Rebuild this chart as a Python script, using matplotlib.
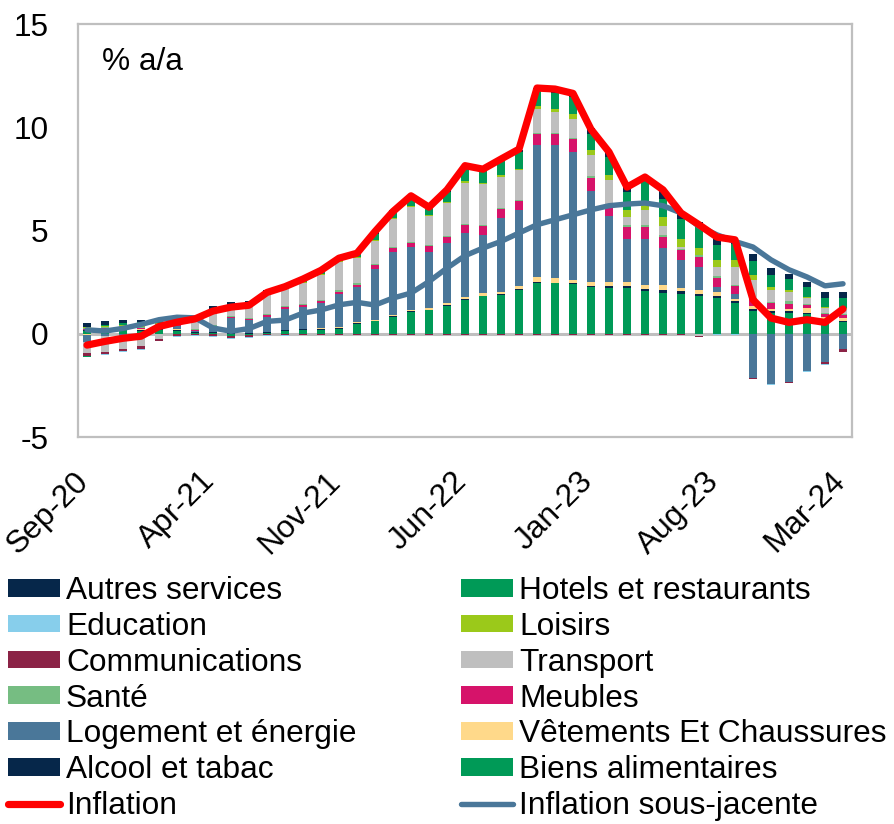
import numpy as np
import pandas as pd
import matplotlib
matplotlib.use("Agg")
import matplotlib.pyplot as plt
from matplotlib.patches import Patch
from matplotlib.lines import Line2D
import matplotlib.transforms as mtransforms

plt.rcParams['font.family'] = ['Liberation Sans', 'DejaVu Sans']
plt.rcParams['axes.unicode_minus'] = False

# ---- data -------------------------------------------------------------
months = pd.date_range('2020-09-01', '2024-03-01', freq='MS').strftime('%b-%y').tolist()
tick_labels = ['Sep-20', 'Apr-21', 'Nov-21', 'Jun-22', 'Jan-23', 'Aug-23', 'Mar-24']

biens_alimentaires = [0.15, 0.15, 0.20, 0.15, 0.20, 0.15, 0.05, 0.05, -0.10, -0.08, 0.05, 0.15, 0.20, 0.20, 0.25,
                      0.48, 0.61, 0.81, 1.05, 1.13, 1.35, 1.65, 1.81, 1.90, 2.13, 2.47, 2.45, 2.39, 2.25, 2.23,
                      2.21, 2.08, 1.97, 1.92, 1.84, 1.73, 1.49, 1.11, 1.00, 1.00, 0.97, 0.60, 0.55]
alcool_tabac = [0.05, 0.05, 0.05, 0.05, 0.05, 0.05, 0.03, 0.03, 0.03, 0.03, 0.03, 0.03, 0.03, 0.03, 0.03,
                0.03, 0.03, 0.03, 0.03, 0.03, 0.03, 0.03, 0.03, 0.03, 0.03, 0.05, 0.03, 0.05, 0.05, 0.08,
                0.10, 0.08, 0.16, 0.13, 0.10, 0.08, 0.08, 0.08, 0.08, 0.08, 0.05, 0.05, 0.05]
vetements = [-0.05, 0.02, 0.03, 0.05, 0.02, 0.02, 0.02, 0.02, 0.02, 0.02, 0.02, 0.02, 0.02, 0.05, 0.04,
             0.05, 0.05, 0.08, 0.08, 0.08, 0.10, 0.10, 0.11, 0.11, 0.16, 0.21, 0.24, 0.18, 0.21, 0.19,
             0.21, 0.21, 0.21, 0.16, 0.19, 0.19, 0.11, 0.13, 0.13, 0.13, 0.23, 0.16, 0.16]
logement = [-0.35, -0.10, -0.10, -0.05, 0.10, 0.15, 0.05, 0.20, 0.70, 0.60, 0.70, 1.00, 1.05, 1.20, 1.62,
            1.70, 2.44, 3.02, 3.03, 2.70, 2.90, 3.10, 2.85, 3.55, 3.65, 6.40, 6.40, 6.20, 4.40, 3.20,
            2.05, 2.20, 1.82, 1.35, 1.10, 0.26, 0.26, -2.15, -2.42, -2.36, -1.78, -1.35, -0.75]
meubles = [0.05, 0.06, 0.05, 0.05, 0.05, 0.05, 0.05, 0.05, 0.05, 0.07, 0.10, 0.10, 0.10, 0.10, 0.10,
           0.10, 0.19, 0.21, 0.21, 0.32, 0.32, 0.37, 0.40, 0.45, 0.48, 0.52, 0.56, 0.60, 0.65, 0.55,
           0.58, 0.58, 0.52, 0.48, 0.47, 0.42, 0.39, 0.35, 0.27, 0.24, 0.13, 0.13, 0.16]
sante = [0.03, 0.03, 0.03, 0.05, 0.05, 0.05, 0.05, 0.05, 0.05, 0.05, 0.05, 0.05, 0.05, 0.05, 0.08,
         0.08, 0.05, 0.05, 0.05, 0.05, 0.05, 0.05, 0.05, 0.05, 0.05, 0.06, 0.05, 0.05, 0.10, 0.05,
         0.11, 0.11, 0.08, 0.05, 0.10, 0.13, 0.05, 0.05, 0.08, 0.16, 0.05, 0.05, 0.05]
transport = [-0.55, -0.78, -0.65, -0.55, -0.25, 0.05, 0.45, 0.60, 0.40, 0.55, 0.95, 0.80, 1.00, 1.20, 1.36,
             1.21, 1.13, 1.37, 1.70, 1.39, 1.57, 2.02, 2.02, 1.50, 1.42, 1.18, 1.02, 0.94, 1.02, 1.15,
             0.40, 0.73, 0.48, 0.10, -0.13, 0.42, 0.85, 0.90, 0.56, 0.39, 0.29, 0.24, 0.24]
communications = [-0.15, -0.10, -0.10, -0.13, -0.10, -0.10, -0.08, -0.12, -0.10, -0.10, -0.05, -0.05, -0.05, -0.05, -0.05,
                  -0.05, -0.05, -0.04, -0.04, -0.04, -0.04, -0.04, -0.04, -0.04, -0.04, -0.05, -0.04, -0.04, -0.04, -0.04,
                  -0.04, -0.04, -0.04, -0.04, -0.03, -0.03, -0.03, -0.03, -0.03, -0.03, -0.04, -0.13, -0.11]
loisirs = [0.05, 0.08, 0.07, 0.10, 0.05, 0.10, 0.05, 0.07, 0.05, 0.07, 0.07, 0.05, 0.05, 0.05, 0.05,
           0.05, 0.06, 0.05, 0.05, 0.05, 0.06, 0.06, 0.05, 0.08, 0.08, 0.13, 0.13, 0.21, 0.21, 0.24,
           0.32, 0.32, 0.40, 0.42, 0.37, 0.32, 0.32, 0.23, 0.16, 0.10, 0.08, 0.08, 0.05]
education = [0.01, -0.03, -0.03, -0.04, -0.02, -0.04, -0.05, -0.05, -0.05, -0.05, -0.05, -0.05, -0.03, -0.02, -0.02,
             -0.02, -0.02, -0.02, -0.02, -0.02, -0.02, -0.02, -0.02, -0.02, -0.02, -0.02, -0.02, -0.02, -0.02, -0.02,
             -0.02, -0.02, -0.02, -0.02, -0.02, -0.02, -0.02, -0.01, -0.01, -0.01, -0.01, -0.01, -0.01]
hotels = [-0.05, 0.05, 0.10, 0.10, 0.10, 0.05, 0.05, 0.10, 0.07, 0.07, 0.08, 0.08, 0.10, 0.10, 0.08,
          0.17, 0.29, 0.32, 0.40, 0.33, 0.50, 0.65, 0.56, 0.70, 0.81, 0.81, 0.77, 0.86, 0.77, 0.89,
          0.89, 1.10, 0.89, 0.95, 1.00, 0.76, 0.80, 0.69, 0.56, 0.55, 0.44, 0.44, 0.48]
autres_services = [0.20, 0.20, 0.15, 0.10, 0.10, 0.03, 0.05, 0.15, 0.15, 0.15, 0.05, 0.10, 0.10, 0.10, 0.05,
                   0.05, 0.08, 0.05, 0.05, 0.05, 0.08, 0.10, 0.08, 0.10, 0.10, 0.08, 0.19, 0.13, 0.32, 0.24,
                   0.32, 0.21, 0.40, 0.24, 0.24, 0.32, 0.19, 0.32, 0.32, 0.26, 0.26, 0.26, 0.29]

inflation = [-0.55, -0.37, -0.22, -0.12, 0.35, 0.56, 0.72, 1.10, 1.29, 1.38, 2.00, 2.28, 2.65, 3.07, 3.66,
             3.90, 4.95, 5.92, 6.68, 6.13, 6.97, 8.14, 7.97, 8.46, 8.94, 11.90, 11.85, 11.64, 9.90, 8.80,
             7.10, 7.59, 6.97, 5.85, 5.28, 4.68, 4.55, 1.65, 0.76, 0.55, 0.68, 0.55, 1.20]
inflation_sj = [0.19, 0.13, 0.26, 0.45, 0.68, 0.80, 0.77, 0.28, 0.12, 0.25, 0.60, 0.66, 1.00, 1.15, 1.40,
                1.52, 1.39, 1.73, 1.97, 2.53, 3.18, 3.78, 4.15, 4.47, 4.88, 5.28, 5.52, 5.76, 6.00, 6.20,
                6.28, 6.33, 6.20, 5.85, 5.20, 4.79, 4.47, 4.20, 3.58, 3.10, 2.75, 2.32, 2.42]

series = [
    ('Biens alimentaires', biens_alimentaires, '#009A57'),
    ('Alcool et tabac', alcool_tabac, '#06274A'),
    ('Vêtements Et Chaussures', vetements, '#FFD98A'),
    ('Logement et énergie', logement, '#4A7799'),
    ('Meubles', meubles, '#D6136A'),
    ('Santé', sante, '#76BD82'),
    ('Transport', transport, '#BFBFBF'),
    ('Communications', communications, '#8B2346'),
    ('Loisirs', loisirs, '#9BC91A'),
    ('Education', education, '#87CEEB'),
    ('Hotels et restaurants', hotels, '#009A57'),
    ('Autres services', autres_services, '#06274A'),
]

# ---- figure -----------------------------------------------------------
FS = 22.8
fig = plt.figure(figsize=(8.95, 8.24), dpi=100)
ax = fig.add_axes([78/895, 1-437/824, (852-78)/895, (437-24)/824])

x = np.arange(len(months))
pos_base = np.zeros(len(x))
neg_base = np.zeros(len(x))
handles = {}
for name, vals, col in series:
    v = np.array(vals, dtype=float)
    p = np.where(v > 0, v, 0)
    n = np.where(v < 0, v, 0)
    ax.bar(x, p, bottom=pos_base, width=0.42, color=col, linewidth=0, zorder=2)
    ax.bar(x, n, bottom=neg_base, width=0.42, color=col, linewidth=0, zorder=2)
    pos_base += p
    neg_base += n
    handles[name] = Patch(facecolor=col, edgecolor='none')

l1, = ax.plot(x, inflation, color='#FF0000', lw=5.2, zorder=4, solid_capstyle='round', solid_joinstyle='round')
l2, = ax.plot(x, inflation_sj, color='#4A7799', lw=3.9, zorder=3, solid_capstyle='round', solid_joinstyle='round')

ax.axhline(0, color='#BFBFBF', lw=2.2, zorder=1)
ax.set_xlim(-0.5, len(x) - 0.5)
ax.set_ylim(-5, 15)
ax.set_yticks([-5, 0, 5, 10, 15])
ax.tick_params(axis='y', length=0, pad=21, labelsize=FS)
tick_pos = [months.index(t) for t in tick_labels]
ax.set_xticks(tick_pos)
ax.set_xticklabels(tick_labels, rotation=45, ha='right', fontsize=FS)
ax.tick_params(axis='x', length=0, pad=21)
offset = mtransforms.ScaledTranslation(8/100, 0, fig.dpi_scale_trans)
for lab in ax.get_xticklabels():
    lab.set_transform(lab.get_transform() + offset)
for sp in ax.spines.values():
    sp.set_color('#BFBFBF')
    sp.set_linewidth(1.6)

ax.text(0.031, 0.908, '% a/a', transform=ax.transAxes, fontsize=FS, va='center', ha='left')

# legend: left column then right column (matplotlib fills column-wise)
left_col = ['Autres services', 'Education', 'Communications', 'Santé', 'Logement et énergie', 'Alcool et tabac']
right_col = ['Hotels et restaurants', 'Loisirs', 'Transport', 'Meubles', 'Vêtements Et Chaussures', 'Biens alimentaires']
h = [handles[n] for n in left_col] + [l1] + [handles[n] for n in right_col] + [l2]
lab = left_col + ['Inflation'] + right_col + ['Inflation sous-jacente']
leg = fig.legend(h, lab, loc='upper left', bbox_to_anchor=(8/895, 1-576/824), ncol=2,
                 frameon=False, fontsize=FS, borderpad=0, borderaxespad=0,
                 handlelength=1.65, handleheight=0.48, handletextpad=0.18,
                 labelspacing=0.185, columnspacing=3.3)

fig.savefig('out.png', dpi=100)
